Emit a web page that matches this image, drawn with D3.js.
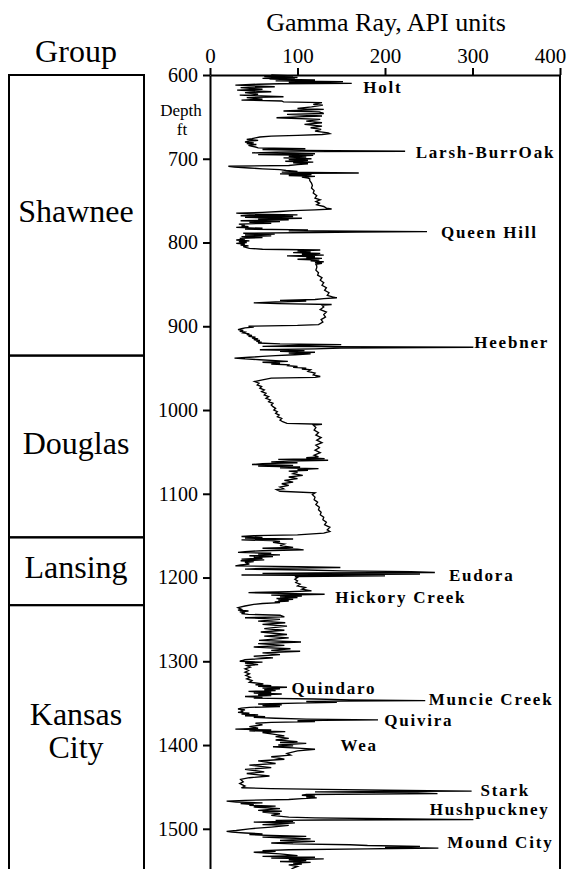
<!DOCTYPE html>
<html><head><meta charset="utf-8">
<script src="https://cdn.jsdelivr.net/npm/d3@7"></script>
<style>
html,body{margin:0;padding:0;background:#fff;}
svg{display:block;}
</style></head><body>
<svg id="chart" width="570" height="869"></svg>
<script>
// Axis ticks
const gammaTicks = [0, 100, 200, 300, 400];
const depthTicks = [600, 700, 800, 900, 1000, 1100, 1200, 1300, 1400, 1500];

// Stratigraphic groups (depth tops / bases, ft)
const groupNames = ["Shawnee", "Douglas", "Lansing", "Kansas City"];
const groupTops  = [600, 935, 1152, 1233];
const groupBases = [935, 1152, 1233, 1560];

// Named marker beds: label name, depth (ft) and gamma (API) where the label starts
const formationNames = ["Holt", "Larsh-BurrOak", "Queen Hill", "Heebner", "Eudora", "Hickory Creek",
  "Quindaro", "Muncie Creek", "Quivira", "Wea", "Stark", "Hushpuckney", "Mound City"];
const formationDepths = [614, 692, 787, 919, 1197, 1223, 1332, 1345, 1370, 1400, 1454, 1476, 1516];
const formationGamma  = [175, 235, 264, 302, 273, 143, 93, 250, 199, 149, 309, 251, 271];

// Gamma-ray log readings [depth ft, gamma API], by group
const shawneeLog = [
  [600,70],[601,95],[602,62],[603,100],[604,60],[604.5,97],[605,68],[606,120],[607,75],[608,152],[609,90],[610,162],[610.5,80],
  [611,55],[612,29],[614,74],[615,35],[617,60],[618,31],[620,70],[621,40],[623,55],[624,34],[626,84],[627,42],[629,60],
  [630,36],[631,82],[632,84],[633,128],[635,118],[636,129],[638,116],[640,100],[641,130],[643,84],[644,125],[646,130],
  [647,88],[649,128],[650,100],[651,76],[653,126],[655,110],[657,128],[659,108],[661,128],[663,115],[665,127],[667,120],
  [669,135],[670,137],[671,128],[672,100],[673,70],[674,57],
  [675,52],[676,48],[677,42],[678,55],[679,45],[680,40],[681,50],[682,42],[683,53],[684,44],[685,47],[686,52],[687,55],
  [688,109],[689,60],[690,105],[691,223],[691.5,110],[692,75],[693,48],[694,120],[695,55],[696,118],[697,90],[698,110],
  [699,84],[700,116],[701,90],[702,112],[703,86],[704,118],[705,95],[706,112],[707,100],[708,90],[709,21],[710,28],[711,45],
  [712,60],[713,80],[714,87],[715,100],[716,82],[717,170],[717.5,110],[718,80],[719,116],[720,90],[721,120],[722,105],
  [723,112],[724,114],[726,114],[729,116],[732,117],[735,116],[738,119],[741,118],[744,122],[747,120],[749,126],[751,121],
  [753,125],[755,122],[757,130],[759,133],[760,139],[761,120],[762,95],[763,80],
  [764,60],[765,30],[766,45],[767,100],[768,35],[769,95],[770,40],[771,105],[772,55],[773,90],[774,35],[775,80],[776,45],
  [777,70],[778,33],[779,40],[780,36],[781,44],[782,30],[783,60],[784,40],[785,112],[786,90],[787,248],[787.5,168],[788,120],
  [789,38],[790,74],[791,40],[792,70],[793,36],[794,60],[795,34],[796,40],[797,30],[798,45],[799,33],[800,42],[801,30],
  [802,40],[803,35],[804,44],[805,38],[806,42],[807,45],[808,60],[809,126],[810,100],[811,115],[812,95],[813,126],[814,105],
  [815,130],[816,88],[817,120],[818,110],[819,128],[820,100],[821,125],[822,115],[823,130],[824,120],[825,128],[826,121],
  [828,122],[830,122],[833,121],[836,124],[839,123],[842,128],[845,126],[848,130],[851,128],[854,133],[857,131],[860,136],
  [863,134],[865,140],[866,145],[867,130],[868,120],[869,80],
  [870,110],[871,75],[872,50],[873,78],[874,139],[875,128],[877,130],[880,126],[883,133],[886,130],[889,132],[892,127],
  [895,129],[898,124],[899,100],[900,44],[901,50],[902,40],[903,36],[904,32],
  [905,38],[906,34],[907,40],[908,38],[909,45],[910,42],[911,48],[912,44],[913,52],[914,48],[915,55],[916,50],[917,57],
  [918,53],[919,59],[920,55],[921,80],[922,150],[923,100],[924,60],[925,301],[925.5,250],[926,150],[927,120],[928,57],
  [929,108],[930,80],[931,120],[932,90],[933,115],[934,97],[935,75]
];
const douglasLog = [
  [936,60],[937,45],[938,28],[939,40],[940,57],[941,75],[942,89],[943,60],[944,80],[945,70],[946,90],[947,89],[948,100],
  [949,95],[950,110],[951,105],[952,115],[954,112],[956,120],[958,118],[960,126],[961,120],[962,70],[964,60],[966,51],
  [968,56],[970,54],[972,59],[974,57],[976,62],[978,59],[980,64],[982,62],[984,67],[986,64],[988,69],[990,67],[992,72],
  [994,70],[996,72],[998,75],[1000,73],[1002,77],[1004,75],[1006,79],[1008,77],[1010,82],[1012,80],[1014,83],[1016,88],
  [1017,128],[1018,118],[1021,121],[1024,119],[1027,124],[1030,121],[1033,127],[1036,122],[1039,128],[1042,121],[1045,125],
  [1048,120],[1051,126],[1054,119],[1056,124],[1057,110],
  [1058,131],[1059,78],[1060,135],[1061,90],[1062,70],[1063,100],[1064,60],[1065,48],[1066,95],[1067,55],[1068,103],
  [1069,80],[1070,124],[1071,100],[1072,112],[1073,90],[1074,100],[1076,95],[1078,106],[1080,90],[1082,100],[1084,85],
  [1086,95],[1088,82],[1090,90],[1092,80],[1094,84],[1095,76],[1097,80],[1099,120],[1101,117],[1104,120],[1107,119],
  [1110,123],[1113,121],[1116,125],[1119,124],[1122,127],[1125,126],[1128,130],[1131,129],[1134,133],[1137,131],[1140,137],
  [1143,134],[1145,137],[1147,130],[1149,100],[1150,50],[1151,36]
];
const lansingLog = [
  [1152,60],[1153,40],[1154,95],[1155,36],[1156,70],[1157,80],[1158,72],[1160,85],[1162,80],[1164,95],[1165,60],[1166,100],
  [1167,107],[1168,60],[1169,40],[1170,32],[1171,70],[1172,55],[1173,80],[1174,45],[1175,72],[1176,50],[1177,60],[1178,36],
  [1179,62],[1180,35],[1181,50],[1182,40],[1184,45],[1185,35],[1186,29],[1187,100],[1188,149],[1189,60],[1190,40],[1191,110],
  [1192,150],[1193,230],[1194,257],[1194.5,120],[1195,60],[1196,240],[1197,36],[1198,200],[1199,97],[1200,100],[1202,97],
  [1204,100],[1206,98],[1208,103],[1210,100],[1212,109],[1214,105],[1216,116],[1217,90],[1218,44],[1219,80],[1220,131],
  [1220.5,100],[1221,70],[1222,105],[1223,80],[1224,100],[1225,76],[1226,95],[1227,78],[1228,90],[1229,74],[1230,80],
  [1231,60],[1232,50]
];
const kansasCityLog = [
  [1234,40],[1236,32],[1238,36],[1239,32],[1240,44],[1241,34],[1242,40],[1243,36],[1244,44],[1245,80],[1247,85],[1248,40],
  [1250,80],[1252,55],[1254,86],[1256,60],[1258,88],[1261,62],[1263,85],[1265,58],[1268,88],[1270,62],[1272,90],[1275,56],
  [1277,104],[1279,55],[1281,85],[1283,50],[1285,92],[1287,70],[1288,103],[1290,60],[1292,80],[1294,50],[1296,72],[1298,40],
  [1300,34],[1301,60],[1302,40],[1304,55],[1305,42],[1307,46],[1309,40],
  [1311,44],[1313,40],[1315,45],[1317,41],[1319,46],[1321,42],[1323,48],[1325,45],[1327,61],[1328,52],[1329,70],[1330,55],
  [1331,88],[1332,60],[1333,80],[1334,62],[1335,75],[1336,44],[1337,70],[1338,50],[1339,82],[1340,55],[1341,70],[1342,40],
  [1343,60],[1344,50],[1345,120],[1346,160],[1347,246],[1347.5,150],[1348,110],[1349,145],[1350,100],[1351,55],[1352,82],
  [1353,60],[1354,80],[1355,45],[1356,36],[1357,32],[1358,40],[1359,35],[1360,38],[1361,32],[1362,45],[1363,36],[1364,55],
  [1365,40],[1366,63],[1367,50],[1368,75],[1369,110],[1370,192],[1370.5,130],[1371,100],[1372,120],[1373,70],[1374,52],
  [1376,60],[1378,45],[1380,55],[1381,29],[1382,70],[1383,45],[1384,86],[1385,60],[1387,72],[1389,85],[1390,75],[1392,90],
  [1394,75],[1396,100],[1397,80],[1398,110],[1400,78],[1401,95],[1402,72],[1404,105],[1405,120],[1407,100],[1410,88],
  [1412,92],[1414,70],[1417,85],[1419,55],[1422,75],[1424,45],[1427,70],[1429,40],[1432,62],[1434,42],[1437,68],[1439,45],
  [1441,35],[1444,38],[1446,34],[1449,40],[1451,36],[1452,70],[1453,130],
  [1454,200],[1455,299],[1456,120],[1457,230],[1458,260],[1459,110],[1460,105],[1461,120],[1462,110],[1463,122],[1464,105],
  [1465,90],[1466,40],[1467,19],[1468,30],[1469,60],[1470,35],[1471,50],[1472,45],[1473,75],[1474,50],[1476,80],[1478,55],
  [1479,82],[1480,60],[1482,80],[1484,70],[1486,90],[1487,120],[1488,200],[1489,301],[1489.5,130],[1490,75],[1491,95],
  [1492,50],[1493,97],[1494,80],[1495,60],[1496,90],[1498,70],[1500,45],[1502,30],[1503,19],[1504,25],[1505,40],[1506,60],
  [1507,45],[1508,70],[1509,110],[1510,60],[1511,90],[1512,115],[1513,100],[1514,80],[1515,120],[1516,100],[1517,70],
  [1518,95],[1519,160],[1520,180],[1521,240],[1522,200],[1523,261],[1523.5,210],[1524,180],[1525,90],[1526,60],[1527,75],
  [1528,50],[1530,80],[1532,100],[1533,60],[1534,120],[1535,70],[1536,130],[1537,90],[1538,110],[1539,80],[1540,115],
  [1541,95],[1542,105],[1543,90],[1545,100],[1547,95],[1549,92]
];

const W = 570, H = 869;
const serif = "'Liberation Serif', 'Times New Roman', serif";
const svg = d3.select("#chart");

const x = d3.scaleLinear().domain([0, 400]).range([210, 560]);
const y = d3.scaleLinear().domain([600, 1548]).range([75, 869]);

// Log trace
const logData = [].concat(shawneeLog, douglasLog, lansingLog, kansasCityLog);
svg.append("path")
  .datum(logData)
  .attr("fill", "none")
  .attr("stroke", "#000")
  .attr("stroke-width", 1.35)
  .attr("stroke-linejoin", "miter")
  .attr("d", d3.line().x(d => x(d[1])).y(d => y(d[0])));

// Top gamma axis
const gAxis = svg.append("g")
  .attr("transform", `translate(0,${y(600)})`)
  .call(d3.axisTop(x).tickValues(gammaTicks).tickSize(7).tickSizeOuter(0).tickPadding(5));
gAxis.select(".domain").attr("stroke-width", 2);
gAxis.selectAll(".tick line").attr("stroke-width", 2);
gAxis.selectAll(".tick text").attr("font-family", serif).attr("font-size", 21).attr("fill", "#000");
// keep the last label inside the page
gAxis.selectAll(".tick text").filter(d => d === 400).attr("dx", -10);

// Left depth axis
const dAxis = svg.append("g")
  .attr("transform", `translate(${x(0)},0)`)
  .call(d3.axisLeft(y).tickValues(depthTicks).tickSize(7).tickSizeOuter(0).tickPadding(5).tickFormat(d3.format("d")));
dAxis.select(".domain").attr("stroke-width", 2);
dAxis.selectAll(".tick line").attr("stroke-width", 2);
dAxis.selectAll(".tick text").attr("font-family", serif).attr("font-size", 20).attr("fill", "#000");

// Right frame
svg.append("line")
  .attr("x1", x(400)).attr("x2", x(400))
  .attr("y1", y(600)).attr("y2", H)
  .attr("stroke", "#000").attr("stroke-width", 2);

// Titles
svg.append("text")
  .attr("x", 386).attr("y", 31)
  .attr("text-anchor", "middle")
  .attr("font-family", serif).attr("font-size", 26)
  .text("Gamma Ray, API units");

svg.append("text")
  .attr("x", 76).attr("y", 62)
  .attr("text-anchor", "middle")
  .attr("font-family", serif).attr("font-size", 32)
  .text("Group");

svg.append("text")
  .attr("x", 181).attr("y", 116)
  .attr("text-anchor", "middle")
  .attr("font-family", serif).attr("font-size", 17)
  .text("Depth");
svg.append("text")
  .attr("x", 182).attr("y", 135)
  .attr("text-anchor", "middle")
  .attr("font-family", serif).attr("font-size", 17)
  .text("ft");

// Group column
const groups = groupNames.map((name, i) => ({ name, top: groupTops[i], base: groupBases[i] }));
const gCol = svg.append("g");
gCol.selectAll("rect").data(groups).join("rect")
  .attr("x", 9).attr("width", 135)
  .attr("y", d => y(d.top))
  .attr("height", d => y(d.base) - y(d.top))
  .attr("fill", "none").attr("stroke", "#000").attr("stroke-width", 2);

gCol.selectAll("text").data(groups).join("text")
  .attr("text-anchor", "middle")
  .attr("font-family", serif).attr("font-size", 32)
  .each(function (d) {
    const words = d.name.split(" ");
    const lh = 33;
    let cy = (y(d.top) + Math.min(y(d.base), H)) / 2 - 4;
    if (words.length > 1) cy -= 3;
    const t = d3.select(this);
    words.forEach((w, k) => {
      t.append("tspan")
        .attr("x", 76)
        .attr("y", cy + (k - (words.length - 1) / 2) * lh)
        .attr("dy", "0.35em")
        .text(w);
    });
  });

// Marker bed labels
svg.append("g").selectAll("text")
  .data(formationNames.map((n, i) => ({ n, d: formationDepths[i], g: formationGamma[i] })))
  .join("text")
  .attr("x", d => x(d.g))
  .attr("y", d => y(d.d))
  .attr("dy", "0.35em")
  .attr("font-family", serif).attr("font-weight", "bold")
  .attr("font-size", 17).attr("letter-spacing", 1.8)
  .text(d => d.n);
</script>
</body></html>
